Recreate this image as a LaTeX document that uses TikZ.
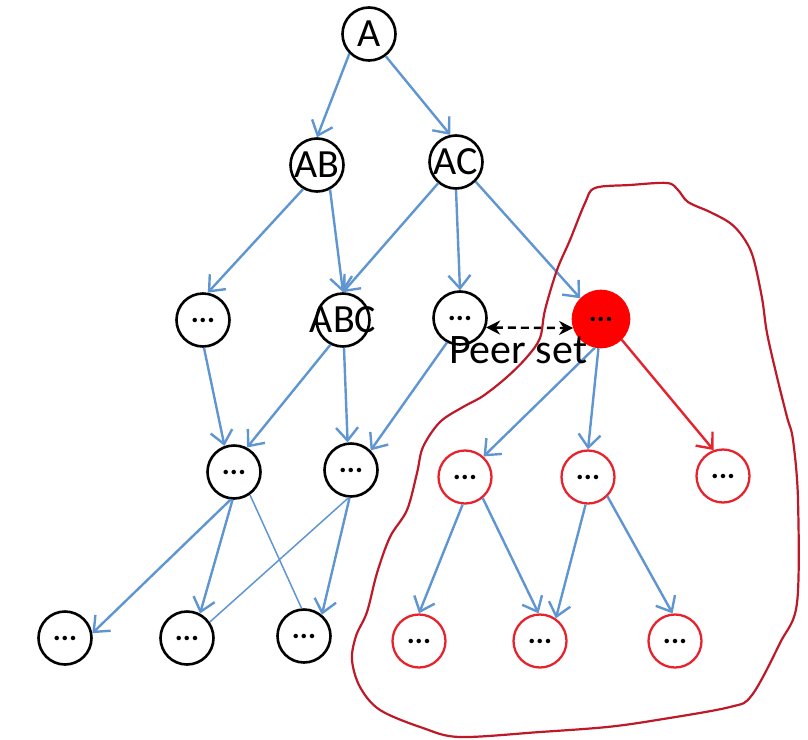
\documentclass[tikz,border=0pt]{standalone}
\usepackage{fontspec}
\setmainfont{Carlito}
\usetikzlibrary{arrows.meta}

\definecolor{eblue}{RGB}{95,150,210}
\definecolor{vred}{RGB}{230,35,45}
\definecolor{pfill}{RGB}{255,0,0}
\definecolor{blobred}{RGB}{190,25,40}

\newcommand{\nodedots}{{\fontsize{30}{30}\selectfont\bfseries ...}}

\tikzset{
  vtx/.style={circle, draw=black, line width=2.6pt, minimum size=53pt, inner sep=0pt,
              font=\fontsize{40}{44}\selectfont},
  rvtx/.style={vtx, draw=vred, line width=2.3pt},
  pvtx/.style={vtx, draw=pfill, fill=pfill, minimum size=56pt},
  dep/.style={draw=eblue, line width=2.4pt, -{Straight Barb[length=13pt,width=22pt]}},
  reddep/.style={dep, draw=vred},
  thinlink/.style={draw=eblue, line width=1.5pt},
  peerlink/.style={draw=black, line width=2.4pt, dash pattern=on 8pt off 5pt,
                   {Stealth[length=14pt,width=14pt]}-{Stealth[length=14pt,width=14pt]}},
  blob/.style={draw=blobred, line width=2.2pt}
}

\begin{document}
\begin{tikzpicture}[x=1pt, y=-1pt]
  \useasboundingbox (0,0) rectangle (808,739);

  % lattice nodes
  \node[vtx] (A)   at (369,34)  {\makebox[0pt]{A}};
  \node[vtx] (AB)  at (317,165) {\makebox[0pt]{AB}};
  \node[vtx] (AC)  at (456,162) {\makebox[0pt]{AC}};
  \node[vtx] (r3a) at (203,320) {\nodedots};
  \node[vtx] (ABC) at (343,320) {\makebox[0pt]{ABC}};
  \node[vtx] (r3c) at (460,318) {\nodedots};
  \node[pvtx] (P)  at (601,319) {\nodedots};
  \node[vtx] (r4a) at (234,472) {\nodedots};
  \node[vtx] (r4b) at (351,470) {\nodedots};
  \node[vtx] (r5a) at (65,638)  {\nodedots};
  \node[vtx] (r5b) at (187,638) {\nodedots};
  \node[vtx] (r5c) at (304,636) {\nodedots};

  % descendants of the selected node
  \node[rvtx] (q4a) at (465,477) {\nodedots};
  \node[rvtx] (q4b) at (588,477) {\nodedots};
  \node[rvtx] (q4c) at (723,476) {\nodedots};
  \node[rvtx] (q5a) at (419,641) {\nodedots};
  \node[rvtx] (q5b) at (540,641) {\nodedots};
  \node[rvtx] (q5c) at (675,641) {\nodedots};

  % connectors
  \draw[dep] (A.225) -- (AB.north);
  \draw[dep] (A.-53) -- (AC.102);
  \draw[dep] (AB.240) -- (r3a.80);
  \draw[dep] (AB.-62) -- (ABC.north);
  \draw[dep] (AC.230) -- (ABC.north);
  \draw[dep] (AC.south) -- (r3c.north);
  \draw[dep] (AC.-45) -- (P.135);

  \draw[dep] (r3a.-88) -- (r4a.110);
  \draw[dep] (ABC.243) -- (r4a.62);
  \draw[dep] (ABC.-88) -- (r4b.97);
  \draw[dep] (r3c.242) -- (r4b.45);

  \draw[dep] (P.258) -- (q4a.48);
  \draw[dep] (P.265) -- (q4b.north);
  \draw[reddep] (P.-45) -- (q4c.110);

  \draw[dep] (r4a.-97) -- (r5a.10);
  \draw[dep] (r4a.-93) -- (r5b.62);
  \draw[thinlink] (r4a.-55) -- (r5c.95);
  \draw[thinlink] (r4b.-95) -- (r5b.35);
  \draw[dep] (r4b.-93) -- (r5c.50);

  \draw[dep] (q4a.-95) -- (q5a.90);
  \draw[dep] (q4a.-50) -- (q5b.93);
  \draw[dep] (q4b.-95) -- (q5b.55);
  \draw[dep] (q4b.-45) -- (q5c.95);

  % peer relation
  \draw[peerlink] (r3c.-20) -- (P.198);
  \node[font=\fontsize{42}{46}\selectfont, anchor=base, inner sep=0pt] (peer) at (518,363) {Peer set};

  % hand-drawn outline around the peer set
  \draw[blob] plot[smooth cycle, tension=0.55] coordinates {
    (545,310) (540,338) (527,357) (507,377) (483,396) (463,407) (440,422)
    (423,447) (417,473) (407,510) (390,537) (377,573) (367,612) (356,636)
    (352,660) (360,687) (380,710) (423,728) (460,737) (540,732) (607,727)
    (657,720) (730,707) (752,695) (780,643) (797,603) (798,500) (793,440)
    (787,417) (777,377) (767,333) (762,298) (753,257) (743,237) (730,223)
    (710,212) (688,202) (678,190) (667,183) (630,185) (595,188) (585,203)
    (570,240) (557,270)
  };
\end{tikzpicture}
\end{document}
